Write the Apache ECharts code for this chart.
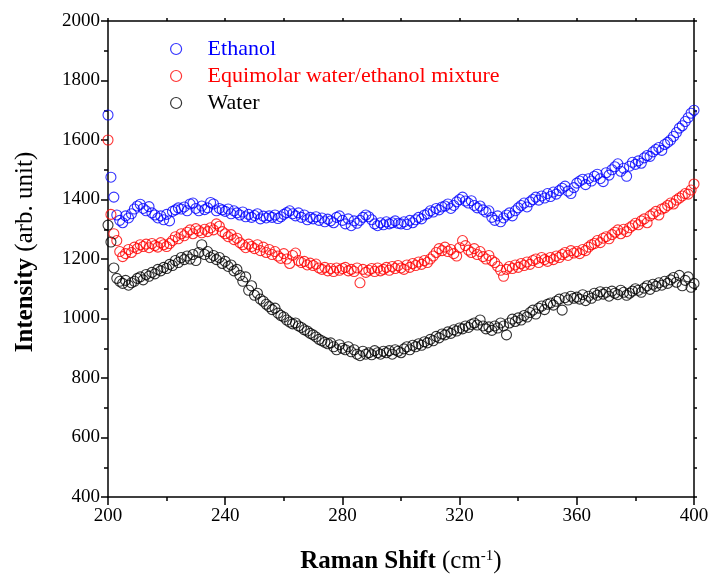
<!DOCTYPE html>
<html>
<head>
<meta charset="utf-8">
<script src="https://cdn.jsdelivr.net/npm/echarts@6/dist/echarts.min.js"></script>
<style>html,body{margin:0;padding:0;background:#fff}#c{width:713px;height:579px}</style>
</head>
<body>
<div id="c"></div>
<script>
// Raman shift start and step (cm-1)
const xStart = 200;
const xStep = 1;
const xTicks = [200, 240, 280, 320, 360, 400];
const yTicks = [400, 600, 800, 1000, 1200, 1400, 1600, 1800, 2000];
const seriesNames = ['Ethanol', 'Equimolar water/ethanol mixture', 'Water'];

const ethanol = [
1684,1475,1408,1348,1330,1322,1345,1338,1352,1368,
1378,1384,1370,1362,1376,1355,1348,1338,1345,1332,
1350,1328,1360,1365,1372,1368,1375,1362,1385,1388,
1370,1362,1378,1366,1372,1390,1385,1362,1370,1365,
1360,1368,1352,1362,1355,1348,1358,1342,1350,1340,
1346,1352,1335,1344,1338,1345,1340,1348,1336,1342,
1350,1356,1362,1352,1345,1355,1340,1348,1332,1340,
1335,1342,1330,1338,1325,1334,1328,1322,1340,1345,
1330,1318,1335,1312,1328,1320,1330,1340,1348,1342,
1332,1318,1312,1322,1315,1325,1318,1322,1328,1320,
1318,1325,1316,1330,1322,1332,1340,1335,1348,1352,
1362,1358,1370,1365,1375,1378,1385,1370,1380,1392,
1400,1408,1395,1388,1396,1380,1372,1378,1365,1358,
1362,1340,1330,1345,1325,1338,1348,1355,1345,1362,
1372,1380,1388,1375,1392,1400,1408,1398,1412,1405,
1420,1410,1425,1418,1430,1438,1445,1428,1420,1440,
1455,1462,1468,1450,1470,1462,1478,1485,1470,1460,
1490,1482,1500,1510,1520,1495,1505,1478,1512,1525,
1518,1530,1522,1540,1548,1545,1560,1568,1575,1565,
1585,1592,1600,1612,1625,1640,1648,1662,1675,1690,
1700];

const mixture = [
1600,1350,1285,1262,1225,1208,1218,1232,1222,1240,
1235,1248,1242,1250,1238,1252,1245,1240,1255,1248,
1242,1252,1262,1275,1268,1285,1278,1290,1298,1285,
1302,1295,1288,1300,1292,1305,1298,1318,1310,1292,
1285,1275,1282,1265,1270,1255,1248,1238,1250,1242,
1235,1248,1228,1240,1222,1232,1215,1225,1210,1202,
1218,1200,1185,1212,1220,1195,1188,1192,1180,1186,
1178,1183,1170,1165,1172,1160,1168,1158,1170,1162,
1168,1172,1160,1165,1158,1170,1120,1165,1155,1162,
1168,1158,1170,1160,1165,1172,1162,1175,1168,1178,
1170,1165,1180,1172,1185,1178,1190,1182,1195,1188,
1200,1210,1222,1235,1228,1240,1225,1232,1218,1210,
1238,1262,1245,1230,1222,1235,1215,1225,1208,1200,
1212,1195,1188,1175,1162,1142,1165,1175,1168,1180,
1172,1185,1178,1190,1182,1195,1200,1188,1205,1198,
1192,1205,1198,1210,1205,1215,1222,1212,1228,1220,
1225,1218,1232,1228,1240,1248,1252,1262,1255,1270,
1275,1268,1282,1290,1298,1285,1300,1292,1305,1312,
1320,1315,1328,1335,1322,1345,1352,1360,1348,1368,
1372,1380,1388,1385,1398,1405,1412,1420,1418,1432,
1452];

const water = [
1314,1257,1170,1135,1125,1118,1128,1112,1120,1125,
1135,1140,1130,1148,1142,1155,1150,1165,1160,1172,
1168,1182,1178,1195,1188,1205,1198,1210,1200,1215,
1195,1222,1248,1215,1225,1205,1212,1198,1205,1185,
1192,1175,1180,1160,1165,1145,1125,1140,1095,1110,
1078,1085,1065,1058,1048,1040,1030,1035,1018,1010,
1005,995,988,982,985,975,970,962,958,950,
945,938,930,925,920,915,918,905,895,912,
900,895,905,888,895,880,875,890,880,885,
878,892,885,880,890,885,892,880,895,890,
885,898,905,895,910,905,915,910,922,918,
930,925,940,935,948,945,955,950,962,958,
968,965,975,970,980,985,978,995,975,965,
972,960,975,968,985,975,945,985,998,990,
1002,995,1010,1005,1020,1028,1015,1035,1042,1030,
1048,1052,1045,1058,1065,1028,1070,1062,1075,1068,
1072,1065,1080,1060,1075,1068,1085,1078,1090,1082,
1088,1075,1092,1085,1080,1095,1088,1078,1085,1092,
1100,1095,1088,1102,1110,1098,1115,1108,1120,1112,
1125,1118,1130,1138,1122,1145,1110,1128,1140,1105,
1118];

const colors = ['#0000ff', '#ff0000', '#000000'];
const FONT = '"Liberation Serif", "Times New Roman", serif';

function toPairs(arr) { return arr.map((v, i) => [xStart + i * xStep, v]); }

const chart = echarts.init(document.getElementById('c'), null, { renderer: 'canvas' });
const axisLine = { show: true, lineStyle: { color: '#000', width: 1.5 } };
const gridBox = { left: 108, right: 19, top: 21, bottom: 82 };

chart.setOption({
  animation: false,
  backgroundColor: '#fff',
  grid: gridBox,
  legend: {
    orient: 'vertical',
    left: 165,
    top: 33,
    itemWidth: 11,
    itemHeight: 11,
    itemGap: 5,
    icon: 'circle',
    textStyle: { fontFamily: FONT, fontSize: 22, padding: [0, 0, 0, 21], lineHeight: 21 },
    data: seriesNames.map((n, i) => ({
      name: n,
      textStyle: { color: colors[i] },
      itemStyle: { color: 'rgba(0,0,0,0)', borderColor: colors[i], borderWidth: 1.2 }
    }))
  },
  xAxis: [{
    type: 'value', min: xTicks[0], max: xTicks[xTicks.length - 1], interval: 40,
    axisLine: axisLine,
    axisTick: { show: true, inside: false, length: 8, lineStyle: { color: '#000', width: 1.5 } },
    minorTick: { show: true, splitNumber: 2, length: 4, lineStyle: { color: '#000', width: 1.5 } },
    splitLine: { show: false },
    axisLabel: { fontFamily: FONT, fontSize: 19, color: '#000', margin: 10, formatter: v => String(v) },
    name: '{b|Raman Shift} {n|(cm}{s|-1}{n|)}',
    nameLocation: 'middle', nameGap: 52,
    nameTextStyle: {
      fontFamily: FONT, fontSize: 25, color: '#000',
      rich: {
        b: { fontFamily: FONT, fontSize: 25, fontWeight: 'bold', color: '#000' },
        n: { fontFamily: FONT, fontSize: 25, color: '#000' },
        s: { fontFamily: FONT, fontSize: 15, color: '#000', verticalAlign: 'top' }
      }
    }
  }, {
    type: 'value', position: 'top', min: xTicks[0], max: xTicks[xTicks.length - 1], interval: 20,
    axisLine: axisLine,
    axisTick: { show: true, inside: false, length: 3, lineStyle: { color: '#000', width: 1.5 } },
    splitLine: { show: false }, axisLabel: { show: false }
  }],
  yAxis: [{
    type: 'value', min: yTicks[0], max: yTicks[yTicks.length - 1], interval: 200,
    axisLine: axisLine,
    axisTick: { show: true, inside: false, length: 7, lineStyle: { color: '#000', width: 1.5 } },
    minorTick: { show: true, splitNumber: 2, length: 4, lineStyle: { color: '#000', width: 1.5 } },
    splitLine: { show: false },
    axisLabel: { fontFamily: FONT, fontSize: 19, color: '#000', margin: 8, formatter: v => String(v) },
    name: '{b|Intensity} {n|(arb. unit)}',
    nameLocation: 'middle', nameGap: 70, nameRotate: 90,
    nameTextStyle: {
      fontFamily: FONT, fontSize: 25, color: '#000', padding: [0, 0, 0, 14],
      rich: {
        b: { fontFamily: FONT, fontSize: 25, fontWeight: 'bold', color: '#000' },
        n: { fontFamily: FONT, fontSize: 25, color: '#000' }
      }
    }
  }, {
    type: 'value', position: 'right', min: yTicks[0], max: yTicks[yTicks.length - 1], interval: 100,
    axisLine: axisLine,
    axisTick: { show: true, inside: false, length: 3, lineStyle: { color: '#000', width: 1.5 } },
    splitLine: { show: false }, axisLabel: { show: false }
  }],
  series: [ethanol, mixture, water].map((arr, i) => ({
    name: seriesNames[i],
    type: 'scatter',
    xAxisIndex: 0, yAxisIndex: 0,
    symbol: 'circle',
    symbolSize: 10,
    itemStyle: { color: 'rgba(0,0,0,0)', borderColor: colors[i], borderWidth: 1.1 },
    data: toPairs(arr)
  }))
});
</script>
</body>
</html>
